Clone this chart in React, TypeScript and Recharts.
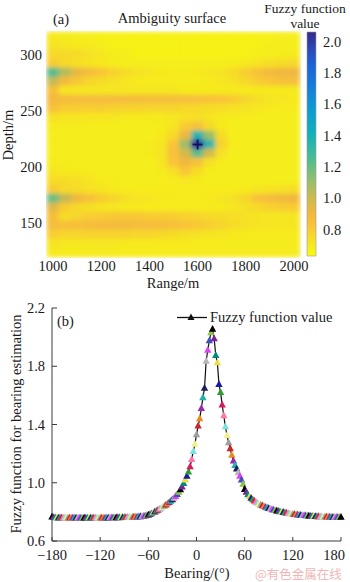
import React from 'react';
import { ScatterChart, Scatter, ComposedChart, Line, XAxis, YAxis, Cell, ReferenceArea } from 'recharts';

const FONT = '"Liberation Serif", "Times New Roman", serif';
const TXT = '#1a1a1a';
const AX = '#3a3a3a';

// ---------- (a) ambiguity surface ----------
const RANGES = [1000, 1050, 1100, 1150, 1200, 1250, 1300, 1350, 1400, 1450, 1500, 1550, 1600, 1650, 1700, 1750, 1800, 1850, 1900, 1950, 2000];
const DEPTHS = [316, 308, 300, 292, 284, 276, 268, 260, 252, 244, 236, 228, 220, 212, 204, 196, 188, 180, 172, 164, 156, 148, 140, 132, 124];
const AMBIGUITY: number[][] = [
  [0.70, 0.69, 0.68, 0.68, 0.67, 0.67, 0.67, 0.67, 0.67, 0.67, 0.67, 0.67, 0.67, 0.67, 0.67, 0.67, 0.67, 0.67, 0.67, 0.68, 0.68],
  [0.72, 0.71, 0.70, 0.69, 0.68, 0.67, 0.67, 0.67, 0.67, 0.67, 0.67, 0.67, 0.67, 0.67, 0.67, 0.67, 0.67, 0.67, 0.68, 0.68, 0.68],
  [0.76, 0.76, 0.75, 0.73, 0.71, 0.69, 0.68, 0.67, 0.67, 0.67, 0.67, 0.67, 0.67, 0.67, 0.67, 0.67, 0.67, 0.68, 0.68, 0.69, 0.69],
  [0.80, 0.76, 0.74, 0.72, 0.70, 0.69, 0.68, 0.68, 0.68, 0.68, 0.68, 0.68, 0.68, 0.68, 0.68, 0.69, 0.70, 0.72, 0.74, 0.75, 0.76],
  [1.24, 1.05, 0.93, 0.87, 0.82, 0.78, 0.75, 0.73, 0.71, 0.70, 0.69, 0.69, 0.70, 0.71, 0.72, 0.75, 0.79, 0.84, 0.88, 0.90, 0.91],
  [1.02, 0.88, 0.81, 0.77, 0.75, 0.73, 0.71, 0.70, 0.69, 0.69, 0.69, 0.69, 0.69, 0.70, 0.71, 0.73, 0.76, 0.79, 0.82, 0.84, 0.85],
  [0.86, 0.72, 0.71, 0.71, 0.71, 0.71, 0.71, 0.71, 0.71, 0.71, 0.71, 0.70, 0.70, 0.70, 0.70, 0.70, 0.70, 0.70, 0.70, 0.70, 0.70],
  [0.89, 0.87, 0.87, 0.87, 0.87, 0.87, 0.87, 0.86, 0.86, 0.86, 0.85, 0.85, 0.84, 0.83, 0.82, 0.80, 0.77, 0.74, 0.72, 0.71, 0.70],
  [0.84, 0.80, 0.79, 0.79, 0.79, 0.78, 0.78, 0.78, 0.77, 0.77, 0.77, 0.76, 0.76, 0.75, 0.74, 0.73, 0.72, 0.71, 0.70, 0.69, 0.69],
  [0.73, 0.72, 0.72, 0.71, 0.71, 0.71, 0.70, 0.70, 0.70, 0.70, 0.71, 0.73, 0.74, 0.72, 0.70, 0.69, 0.69, 0.68, 0.68, 0.68, 0.68],
  [0.69, 0.69, 0.69, 0.69, 0.68, 0.68, 0.68, 0.68, 0.68, 0.69, 0.72, 0.80, 0.84, 0.76, 0.70, 0.68, 0.68, 0.68, 0.68, 0.68, 0.68],
  [0.68, 0.68, 0.68, 0.68, 0.68, 0.68, 0.68, 0.68, 0.68, 0.70, 0.76, 0.92, 1.36, 1.10, 0.75, 0.68, 0.68, 0.68, 0.68, 0.68, 0.68],
  [0.68, 0.68, 0.68, 0.68, 0.68, 0.68, 0.68, 0.68, 0.69, 0.71, 0.82, 1.10, 2.00, 1.34, 0.78, 0.69, 0.68, 0.68, 0.68, 0.68, 0.68],
  [0.68, 0.68, 0.68, 0.68, 0.68, 0.68, 0.68, 0.68, 0.69, 0.72, 0.84, 0.98, 1.22, 0.98, 0.73, 0.68, 0.68, 0.68, 0.68, 0.68, 0.68],
  [0.69, 0.69, 0.68, 0.68, 0.68, 0.68, 0.68, 0.68, 0.68, 0.71, 0.82, 0.90, 0.84, 0.73, 0.69, 0.68, 0.68, 0.68, 0.68, 0.68, 0.68],
  [0.71, 0.70, 0.70, 0.69, 0.68, 0.68, 0.68, 0.68, 0.68, 0.69, 0.74, 0.81, 0.75, 0.69, 0.68, 0.68, 0.68, 0.68, 0.68, 0.68, 0.68],
  [0.75, 0.75, 0.74, 0.72, 0.70, 0.69, 0.68, 0.68, 0.68, 0.68, 0.69, 0.71, 0.70, 0.68, 0.68, 0.68, 0.68, 0.68, 0.68, 0.68, 0.68],
  [0.80, 0.76, 0.75, 0.73, 0.72, 0.70, 0.69, 0.69, 0.69, 0.69, 0.69, 0.69, 0.69, 0.69, 0.69, 0.69, 0.70, 0.71, 0.72, 0.73, 0.74],
  [1.20, 1.02, 0.91, 0.85, 0.80, 0.77, 0.74, 0.72, 0.71, 0.70, 0.70, 0.69, 0.69, 0.70, 0.71, 0.73, 0.77, 0.83, 0.87, 0.89, 0.90],
  [0.95, 0.80, 0.76, 0.74, 0.72, 0.71, 0.70, 0.70, 0.69, 0.69, 0.69, 0.69, 0.69, 0.69, 0.70, 0.71, 0.73, 0.76, 0.78, 0.79, 0.80],
  [0.86, 0.75, 0.77, 0.79, 0.80, 0.81, 0.81, 0.81, 0.80, 0.80, 0.79, 0.78, 0.77, 0.76, 0.75, 0.74, 0.73, 0.72, 0.71, 0.71, 0.71],
  [0.87, 0.85, 0.86, 0.87, 0.88, 0.88, 0.88, 0.87, 0.87, 0.86, 0.85, 0.83, 0.81, 0.79, 0.77, 0.75, 0.73, 0.72, 0.71, 0.71, 0.71],
  [0.79, 0.77, 0.77, 0.78, 0.78, 0.78, 0.78, 0.77, 0.77, 0.76, 0.75, 0.74, 0.73, 0.72, 0.71, 0.70, 0.70, 0.69, 0.69, 0.69, 0.69],
  [0.72, 0.71, 0.71, 0.71, 0.71, 0.71, 0.70, 0.70, 0.70, 0.70, 0.70, 0.70, 0.69, 0.69, 0.69, 0.69, 0.69, 0.69, 0.69, 0.69, 0.69],
  [0.70, 0.69, 0.69, 0.69, 0.69, 0.69, 0.69, 0.69, 0.69, 0.69, 0.69, 0.69, 0.69, 0.69, 0.69, 0.69, 0.69, 0.69, 0.69, 0.69, 0.69],
];
const RANGE_TICKS = [1000, 1200, 1400, 1600, 1800, 2000];
const DEPTH_TICKS = [150, 200, 250, 300];
const COLORBAR_TICKS = [0.8, 1.0, 1.2, 1.4, 1.6, 1.8, 2.0];
const COLORBAR_RANGE = [0.63, 2.06];
const SOURCE_POS = [{ range: 1600, depth: 220 }];

// reversed parula-like colour map (value -> colour)
const COLOR_STOPS: [number, string][] = [
  [2.06, '#352a87'],
  [1.95, '#2c48b8'],
  [1.85, '#1c62d6'],
  [1.70, '#1580d8'],
  [1.55, '#0c9ed0'],
  [1.40, '#13b1b8'],
  [1.25, '#4cbc92'],
  [1.10, '#9cbe68'],
  [1.00, '#cdb950'],
  [0.90, '#f2b83e'],
  [0.82, '#fac438'],
  [0.75, '#f6dc28'],
  [0.68, '#f6ee1c'],
  [0.63, '#f9fb0e'],
];

// ---------- (b) bearing estimation ----------
const BEARINGS = [
  -180, -178, -176, -174, -172, -170, -168, -166, -164, -162, -160, -158, -156, -154, -152, -150, -148, -146, -144, -142,
  -140, -138, -136, -134, -132, -130, -128, -126, -124, -122, -120, -118, -116, -114, -112, -110, -108, -106, -104, -102,
  -100, -98, -96, -94, -92, -90, -88, -86, -84, -82, -80, -78, -76, -74, -72, -70, -68, -66, -64, -62,
  -60, -58, -56, -54, -52, -50, -48, -46, -44, -42, -40, -38, -36, -34, -32, -30, -28, -26, -24, -22,
  -20, -18, -16, -14, -12, -10, -8, -6, -4, -2, 0, 2, 4, 6, 8, 10, 12, 14, 16, 18,
  20, 22, 24, 26, 28, 30, 32, 34, 36, 38, 40, 42, 44, 46, 48, 50, 52, 54, 56, 58,
  60, 62, 64, 66, 68, 70, 72, 74, 76, 78, 80, 82, 84, 86, 88, 90, 92, 94, 96, 98,
  100, 102, 104, 106, 108, 110, 112, 114, 116, 118, 120, 122, 124, 126, 128, 130, 132, 134, 136, 138,
  140, 142, 144, 146, 148, 150, 152, 154, 156, 158, 160, 162, 164, 166, 168, 170, 172, 174, 176, 178,
  180,
];
const FUZZY_VALUES = [
  0.765, 0.762, 0.760, 0.760, 0.759, 0.760, 0.760, 0.759, 0.760, 0.760, 0.759, 0.758, 0.759, 0.760, 0.759, 0.758, 0.758, 0.759, 0.759, 0.758,
  0.758, 0.758, 0.759, 0.758, 0.758, 0.758, 0.758, 0.759, 0.758, 0.758, 0.758, 0.758, 0.759, 0.759, 0.759, 0.759, 0.760, 0.760, 0.760, 0.760,
  0.760, 0.761, 0.761, 0.761, 0.762, 0.762, 0.762, 0.763, 0.763, 0.764, 0.764, 0.765, 0.765, 0.766, 0.767, 0.768, 0.769, 0.770, 0.772, 0.775,
  0.779, 0.783, 0.788, 0.794, 0.800, 0.806, 0.812, 0.819, 0.826, 0.833, 0.840, 0.848, 0.856, 0.865, 0.874, 0.884, 0.895, 0.907, 0.920, 0.935,
  0.952, 0.972, 0.995, 1.020, 1.045, 1.075, 1.110, 1.160, 1.215, 1.265, 1.330, 1.390, 1.440, 1.510, 1.585, 1.650, 1.835, 1.910, 1.975, 2.030,
  2.055, 1.990, 1.875, 1.825, 1.675, 1.620, 1.535, 1.460, 1.385, 1.325, 1.275, 1.235, 1.190, 1.150, 1.120, 1.095, 1.070, 1.045, 1.020, 0.990,
  0.955, 0.935, 0.918, 0.905, 0.894, 0.884, 0.875, 0.867, 0.860, 0.853, 0.847, 0.842, 0.837, 0.832, 0.828, 0.824, 0.820, 0.816, 0.813, 0.810,
  0.807, 0.804, 0.801, 0.799, 0.797, 0.794, 0.792, 0.790, 0.788, 0.786, 0.784, 0.783, 0.781, 0.780, 0.778, 0.777, 0.776, 0.775, 0.774, 0.773,
  0.772, 0.771, 0.770, 0.770, 0.769, 0.768, 0.768, 0.767, 0.767, 0.766, 0.766, 0.765, 0.765, 0.765, 0.764, 0.764, 0.764, 0.764, 0.763, 0.763,
  0.763,
];
const BEARING_TICKS = [-180, -120, -60, 0, 60, 120, 180];
const FUZZY_TICKS = [0.6, 1.0, 1.4, 1.8, 2.2];
const MARKER_COLORS = [
  '#000000', '#7b1fa2', '#00897b', '#e8e040', '#1a1aa0', '#2e9d32', '#d81b60', '#ff77aa', '#7fe0e0', '#f0f08a',
  '#9e9e9e', '#c62828', '#ef8a1a', '#9c27b0', '#20b2aa', '#1e1e5a', '#b8b8b8', '#e040fb', '#3f51b5', '#8bc34a',
];

// ---------- helpers ----------
const hexToRgb = (h: string) => [parseInt(h.slice(1, 3), 16), parseInt(h.slice(3, 5), 16), parseInt(h.slice(5, 7), 16)];
function colorFor(v: number): string {
  const s = COLOR_STOPS;
  if (v >= s[0][0]) return s[0][1];
  if (v <= s[s.length - 1][0]) return s[s.length - 1][1];
  for (let i = 0; i < s.length - 1; i++) {
    const [v0, c0] = s[i];
    const [v1, c1] = s[i + 1];
    if (v <= v0 && v >= v1) {
      const t = (v0 - v) / (v0 - v1);
      const a = hexToRgb(c0);
      const b = hexToRgb(c1);
      const c = a.map((x, k) => Math.round(x + (b[k] - x) * t));
      return `rgb(${c[0]},${c[1]},${c[2]})`;
    }
  }
  return s[s.length - 1][1];
}

const heatCells = AMBIGUITY.flatMap((row, r) => row.map((v, c) => ({ range: RANGES[c], depth: DEPTHS[r], v })));
const fuzzyData = BEARINGS.map((b, i) => ({ bearing: b, value: FUZZY_VALUES[i] }));

const HEAT_PLOT_W = 253;
const HEAT_PLOT_H = 225;
const CELL_W = HEAT_PLOT_W / RANGES.length + 0.8;
const CELL_H = HEAT_PLOT_H / DEPTHS.length + 0.8;

const HeatCell = (p: any) => (
  <rect x={p.cx - CELL_W / 2} y={p.cy - CELL_H / 2} width={CELL_W} height={CELL_H} fill={colorFor(p.payload.v)} />
);
const SourceCross = (p: any) => (
  <g stroke="#12125a" strokeWidth={1.8}>
    <line x1={p.cx - 5} x2={p.cx + 5} y1={p.cy} y2={p.cy} />
    <line x1={p.cx} x2={p.cx} y1={p.cy - 5} y2={p.cy + 5} />
  </g>
);
const Triangle = (p: any) => (
  <polygon
    points={`${p.cx},${p.cy - 4.2} ${p.cx - 3.7},${p.cy + 2.6} ${p.cx + 3.7},${p.cy + 2.6}`}
    fill={p.fill}
  />
);

const tickStyle = { fill: TXT, fontSize: 14.5, fontFamily: FONT };
const minus = (v: number) => (v < 0 ? '\u2212' + Math.abs(v) : String(v));

const BearingTick = (p: any) => {
  const v = p.payload.value;
  const shift = v === BEARING_TICKS[BEARING_TICKS.length - 1] ? -7 : 0;
  return (
    <text x={p.x + shift} y={p.y} dy="0.71em" textAnchor="middle" fill={TXT} fontSize={14.5} fontFamily={FONT}>
      {minus(v)}
    </text>
  );
};

export default function App() {
  return (
    <div style={{ position: 'relative', width: 350, height: 582, background: '#fff', overflow: 'hidden' }}>
      <style>{'body{margin:0} .heatcells{filter:url(#heatBlur);}'}</style>
      <svg width={0} height={0} style={{ position: 'absolute' }}>
        <defs>
          <filter id="heatBlur" x="0" y="0" width="1" height="1">
            <feGaussianBlur stdDeviation="2.6 2" edgeMode="duplicate" />
          </filter>
          <linearGradient id="cbGrad" x1="0" y1="0" x2="0" y2="1">
            {COLOR_STOPS.map(([v, c]) => (
              <stop key={v} offset={(COLORBAR_RANGE[1] - v) / (COLORBAR_RANGE[1] - COLORBAR_RANGE[0])} stopColor={c} />
            ))}
          </linearGradient>
        </defs>
      </svg>

      {/* (a) heat map */}
      <div style={{ position: 'absolute', left: 0, top: 0 }}>
        <ScatterChart width={350} height={290} margin={{ top: 32, right: 50, bottom: 0, left: 0 }}>
          <XAxis
            type="number"
            dataKey="range"
            domain={[975, 2025]}
            ticks={RANGE_TICKS}
            interval={0}
            height={33}
            axisLine={false}
            tickLine={false}
            tickSize={0}
            tickMargin={4}
            tick={tickStyle}
          />
          <YAxis
            type="number"
            dataKey="depth"
            domain={[120, 320]}
            ticks={DEPTH_TICKS}
            interval={0}
            width={47}
            axisLine={false}
            tickLine={false}
            tickSize={0}
            tickMargin={5}
            tick={tickStyle}
          />
          <Scatter data={heatCells} shape={HeatCell} className="heatcells" isAnimationActive={false} />
          <Scatter data={SOURCE_POS} shape={SourceCross} isAnimationActive={false} />
        </ScatterChart>
      </div>

      {/* colour bar */}
      <div style={{ position: 'absolute', left: 0, top: 0 }}>
        <ComposedChart
          width={350}
          height={290}
          data={COLORBAR_TICKS.map((v) => ({ x: 0.5, v }))}
          margin={{ top: 32, right: 0, bottom: 34, left: 307 }}
        >
          <XAxis type="number" dataKey="x" domain={[0, 1]} hide />
          <YAxis
            type="number"
            dataKey="v"
            orientation="right"
            domain={COLORBAR_RANGE}
            ticks={COLORBAR_TICKS}
            interval={0}
            width={34}
            axisLine={false}
            tickLine={false}
            tickSize={6}
            tickMargin={1}
            tick={tickStyle}
            tickFormatter={(v: number) => v.toFixed(1)}
            allowDataOverflow
          />
          <ReferenceArea
            x1={0}
            x2={1}
            y1={COLORBAR_RANGE[0]}
            y2={COLORBAR_RANGE[1]}
            fill="url(#cbGrad)"
            fillOpacity={1}
            stroke="#9a9a9a"
            strokeWidth={0.6}
          />
        </ComposedChart>
      </div>

      {/* (b) bearing estimation */}
      <div style={{ position: 'absolute', left: 0, top: 290 }}>
        <ComposedChart width={350} height={292} data={fuzzyData} margin={{ top: 18, right: 9, bottom: 0, left: 0 }}>
          <XAxis
            type="number"
            dataKey="bearing"
            domain={[-180, 180]}
            ticks={BEARING_TICKS}
            interval={0}
            height={41}
            stroke={AX}
            tickSize={-4}
            tickMargin={12.5}
            tick={<BearingTick />}
          />
          <XAxis
            xAxisId="top"
            orientation="top"
            type="number"
            dataKey="bearing"
            domain={[-180, 180]}
            height={0}
            stroke={AX}
            tick={false}
            tickLine={false}
          />
          <YAxis
            type="number"
            dataKey="value"
            domain={[0.6, 2.2]}
            ticks={FUZZY_TICKS}
            interval={0}
            width={52}
            stroke={AX}
            tickSize={-5}
            tickMargin={12}
            tick={tickStyle}
            tickFormatter={(v: number) => v.toFixed(1)}
          />
          <YAxis
            yAxisId="right"
            orientation="right"
            type="number"
            domain={[0.6, 2.2]}
            width={0}
            stroke={AX}
            tick={false}
            tickLine={false}
          />
          <Line dataKey="value" stroke="#111" strokeWidth={1.2} dot={false} isAnimationActive={false} />
          <Scatter data={fuzzyData} dataKey="value" shape={Triangle} isAnimationActive={false}>
            {fuzzyData.map((_, i) => (
              <Cell key={i} fill={MARKER_COLORS[i % MARKER_COLORS.length]} />
            ))}
          </Scatter>
        </ComposedChart>
      </div>

      {/* titles, axis labels, legend */}
      <svg width={350} height={582} style={{ position: 'absolute', left: 0, top: 0, pointerEvents: 'none' }}>
        <g fontFamily={FONT} fontSize={14.5} fill={TXT}>
          <text x={53} y={23.5}>(a)</text>
          <text x={172} y={23} textAnchor="middle">Ambiguity surface</text>
          <text x={305} y={12.5} textAnchor="middle" fontSize={13.5}>Fuzzy function</text>
          <text x={305} y={28} textAnchor="middle" fontSize={13.5}>value</text>
          <text transform="translate(12.5,135) rotate(-90)" textAnchor="middle">Depth/m</text>
          <text x={173} y={288} textAnchor="middle">Range/m</text>
          <text x={57} y={326}>(b)</text>
          <text transform="translate(20.5,424) rotate(-90)" textAnchor="middle">Fuzzy function for bearing estimation</text>
          <text x={197} y={578} textAnchor="middle">Bearing/(°)</text>
          <text x={210} y={322}>Fuzzy function value</text>
        </g>
        <line x1={177} x2={207} y1={317.5} y2={317.5} stroke="#111" strokeWidth={1.3} />
        <polygon points="191,313.5 187.5,320 194.5,320" fill="#111" />
        <text x={255} y={579} fontFamily='"Noto Sans CJK SC", sans-serif' fontSize={12.5} fill="#f2b6b6">@有色金属在线</text>
      </svg>
    </div>
  );
}
